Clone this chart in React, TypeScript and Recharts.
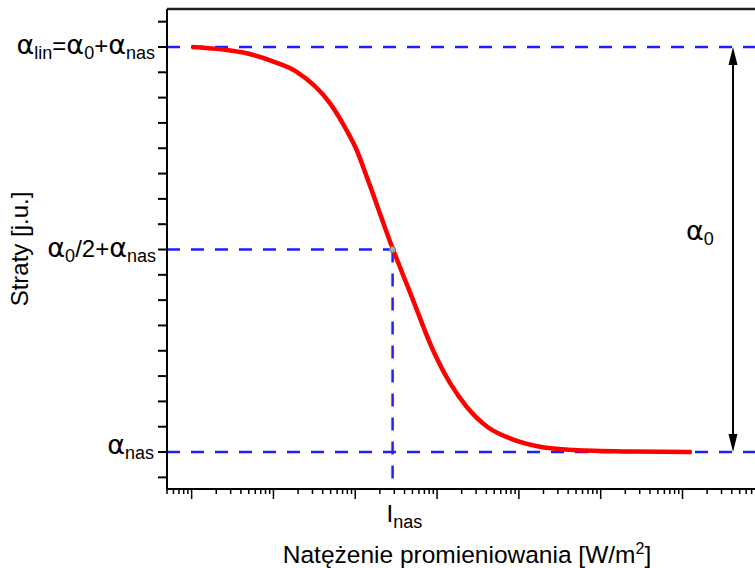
import React from 'react';
import {
    LineChart,
    Line,
    XAxis,
    YAxis,
    ReferenceLine,
    ReferenceDot
} from 'recharts';

// irradiance [W/m2] (log axis) and losses (arbitrary units, alpha_nas = 0, alpha_lin = 16)
const intensity = [1, 4.7, 10, 19, 49, 78, 104, 138, 286, 490, 890, 1450, 2300, 4100, 7800, 18000, 47000, 245000, 1300000];
const losses = [16.0, 15.75, 15.42, 15.03, 13.78, 12.72, 11.93, 10.88, 8.05, 6.14, 4.03, 2.71, 1.79, 1.0, 0.54, 0.21, 0.08, 0.02, 0];

const A_NAS = 0;
const A_HALF = 8;
const A_LIN = 16;
const I_NAS = 286;
const ARROW_X = 4.14e6;

const X_DOMAIN: [number, number] = [0.5, 2.06e7];
const Y_DOMAIN: [number, number] = [-1.46, 17.5];

const yTicks = [-1, 0, 1, 2, 3, 4, 5, 6, 7, 8, 9, 10, 11, 12, 13, 14, 15, 16, 17];
const decades = [0.1, 1, 10, 100, 1000, 1e4, 1e5, 1e6, 1e7];
const mantissas = [1, 2, 3, 4, 5, 6, 7, 8, 9];

const xTicks = decades
    .flatMap(d => mantissas.map(m => m * d))
    .filter(v => v >= X_DOMAIN[0] && v <= X_DOMAIN[1]);

const data = intensity.map((x, i) => ({ x, y: losses[i] }));

const FONT = '"Liberation Sans", Arial, sans-serif';
const GREEK = '"DejaVu Sans", sans-serif';
const BLUE = '#1f1fff';
const DASH = '13 11';

const YTick = ({ x, y, payload }: any) => {
    const v = payload.value;
    const main = 24;
    const sub = 18;
    const ga = 27;
    let label: React.ReactNode = null;
    if (v === A_LIN) {
        label = (
            <text x={x - 12} y={y + 7.5} textAnchor="end" fontFamily={FONT} fontSize={main} fill="#000">
                <tspan fontFamily={GREEK} fontSize={ga}>α</tspan>
                <tspan fontSize={sub} dy={5}>lin</tspan>
                <tspan dy={-5}>=</tspan>
                <tspan fontFamily={GREEK} fontSize={ga}>α</tspan>
                <tspan fontSize={sub} dy={5}>0</tspan>
                <tspan dy={-5}>+</tspan>
                <tspan fontFamily={GREEK} fontSize={ga}>α</tspan>
                <tspan fontSize={sub} dy={5}>nas</tspan>
            </text>
        );
    } else if (v === A_HALF) {
        label = (
            <text x={x - 11} y={y + 7.5} textAnchor="end" fontFamily={FONT} fontSize={main} fill="#000">
                <tspan fontFamily={GREEK} fontSize={ga}>α</tspan>
                <tspan fontSize={sub} dy={5}>0</tspan>
                <tspan dy={-5}>/2+</tspan>
                <tspan fontFamily={GREEK} fontSize={ga}>α</tspan>
                <tspan fontSize={sub} dy={5}>nas</tspan>
            </text>
        );
    } else if (v === A_NAS) {
        label = (
            <text x={x - 13} y={y + 1.5} textAnchor="end" fontFamily={FONT} fontSize={main} fill="#000">
                <tspan fontFamily={GREEK} fontSize={ga}>α</tspan>
                <tspan fontSize={sub} dy={5}>nas</tspan>
            </text>
        );
    }
    return (
        <g>
            <line x1={x - 9} x2={x} y1={y} y2={y} stroke="#000" strokeWidth={2} />
            {label}
        </g>
    );
};

const XTick = ({ x, y, payload }: any) => {
    const lg = Math.log10(payload.value);
    const major = Math.abs(lg - Math.round(lg)) < 1e-6;
    return <line x1={x} x2={x} y1={y} y2={y + (major ? 10 : 5)} stroke="#000" strokeWidth={1.5} />;
};

const XTitle = ({ viewBox }: any) => (
    <text x={viewBox.x + 300} y={viewBox.y + 74} textAnchor="middle" fontFamily={FONT} fontSize={24.5} fill="#000">
        Natężenie promieniowania [W/m
        <tspan fontSize={16} dy={-9}>2</tspan>
        <tspan dy={9}>]</tspan>
    </text>
);

const YTitle = ({ viewBox }: any) => {
    const cx = 28;
    const cy = viewBox.y + viewBox.height / 2;
    return (
        <text x={cx} y={cy} transform={`rotate(-90 ${cx} ${cy})`} textAnchor="middle" fontFamily={FONT} fontSize={24} fill="#000">
            Straty [j.u.]
        </text>
    );
};

const ArrowShape = (p: any) => {
    const { x1, y1, y2 } = p;
    const mid = (y1 + y2) / 2;
    return (
        <g>
            <line x1={x1} x2={x1} y1={y1 + 10} y2={y2 - 10} stroke="#000" strokeWidth={2} />
            <polygon points={`${x1},${y1} ${x1 - 4.5},${y1 + 18} ${x1 + 4.5},${y1 + 18}`} fill="#000" />
            <polygon points={`${x1},${y2} ${x1 - 4.5},${y2 - 18} ${x1 + 4.5},${y2 - 18}`} fill="#000" />
            <text x={x1 - 47} y={mid - 10} fontFamily={FONT} fontSize={24} fill="#000">
                <tspan fontFamily={GREEK} fontSize={27}>α</tspan>
                <tspan fontSize={18} dy={5}>0</tspan>
            </text>
        </g>
    );
};

const InasShape = (p: any) => {
    const { x1, y1, x2, y2 } = p;
    return (
        <g>
            <line x1={x1} x2={x2} y1={y1} y2={y2} stroke={BLUE} strokeWidth={2.5} strokeDasharray={DASH} />
            <text x={x2 - 6} y={y2 + 33} fontFamily={FONT} fontSize={24} fill="#000">
                <tspan>I</tspan>
                <tspan fontSize={18} dy={6}>nas</tspan>
            </text>
        </g>
    );
};

export default function App() {
    return (
        <div style={{ position: 'absolute', left: 0, top: 0, width: 755, height: 568, overflow: 'hidden', background: '#fff' }}>
            <LineChart width={820} height={568} data={data} margin={{ top: 9, right: 30, bottom: 0, left: 0 }}>
                <XAxis
                    dataKey="x"
                    type="number"
                    scale="log"
                    domain={X_DOMAIN}
                    allowDataOverflow
                    ticks={xTicks}
                    interval={0}
                    height={79}
                    tickSize={0}
                    tickMargin={0}
                    tick={<XTick />}
                    axisLine={{ stroke: '#000', strokeWidth: 2 }}
                    label={{ content: XTitle }}
                />
                <YAxis
                    type="number"
                    domain={Y_DOMAIN}
                    allowDataOverflow
                    ticks={yTicks}
                    interval={0}
                    width={167}
                    tickSize={0}
                    tickMargin={0}
                    tick={<YTick />}
                    axisLine={{ stroke: '#000', strokeWidth: 2 }}
                    label={{ content: YTitle }}
                />
                <ReferenceLine y={Y_DOMAIN[1]} stroke="#222" strokeWidth={2.5} ifOverflow="visible" />
                <ReferenceLine y={A_LIN} stroke={BLUE} strokeWidth={2.5} strokeDasharray={DASH} ifOverflow="visible" />
                <ReferenceLine y={A_NAS} stroke={BLUE} strokeWidth={2.5} strokeDasharray={DASH} ifOverflow="visible" />
                <ReferenceLine
                    segment={[{ x: X_DOMAIN[0], y: A_HALF }, { x: I_NAS, y: A_HALF }]}
                    stroke={BLUE}
                    strokeWidth={2.5}
                    strokeDasharray={DASH}
                    ifOverflow="visible"
                />
                <ReferenceLine
                    segment={[{ x: I_NAS, y: A_HALF }, { x: I_NAS, y: Y_DOMAIN[0] }]}
                    ifOverflow="visible"
                    shape={InasShape}
                />
                <Line
                    dataKey="y"
                    type="monotone"
                    stroke="#ff0000"
                    strokeWidth={4.5}
                    dot={false}
                    isAnimationActive={false}
                />
                <ReferenceDot x={I_NAS} y={A_HALF} r={3} fill="#aaa" stroke="#777" strokeWidth={1} ifOverflow="visible" />
                <ReferenceLine
                    segment={[{ x: ARROW_X, y: A_LIN }, { x: ARROW_X, y: A_NAS }]}
                    ifOverflow="visible"
                    shape={ArrowShape}
                />
            </LineChart>
        </div>
    );
}
